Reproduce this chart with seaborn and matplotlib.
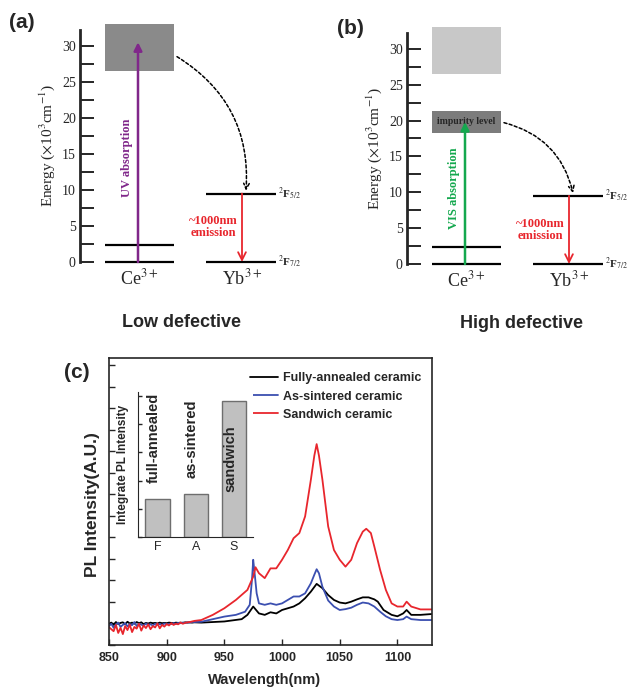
import numpy as np
import pandas as pd
import seaborn as sns
import matplotlib.pyplot as plt
from matplotlib.patches import Rectangle
from matplotlib.ticker import MultipleLocator

sns.set_style("ticks")
plt.rcParams['font.family'] = ['Liberation Sans', 'DejaVu Sans']
plt.rcParams['mathtext.fontset'] = 'stix'
SERIF = ['Liberation Serif', 'DejaVu Serif']

# energy level schemes (x10^3 cm^-1)
ce_levels = [0, 2.4]
yb_levels = [0, 9.5]
yb_names = [r'$^2$F$_{7/2}$', r'$^2$F$_{5/2}$']
band = [26.5, 33.0]
uv_top = 30.5
impurity = [18.3, 21.3]
vis_top = 19.8

# PL spectra
base_wl = list(range(850, 926, 2))
red_base = [0.62, 0.55, 0.48, 0.70, 0.42, 0.60, 0.38, 0.66, 0.52, 0.71, 0.45, 0.63, 0.57,
            0.74, 0.50, 0.68, 0.59, 0.72, 0.55, 0.66, 0.61, 0.75, 0.58, 0.70, 0.64, 0.73,
            0.68, 0.76, 0.70, 0.74, 0.72, 0.78, 0.74, 0.77, 0.79, 0.80, 0.82, 0.84]
blue_base = [0.66, 0.74, 0.60, 0.72, 0.78, 0.63, 0.70, 0.76, 0.65, 0.73, 0.69, 0.80, 0.66,
             0.74, 0.71, 0.67, 0.75, 0.70, 0.72, 0.68, 0.74, 0.71, 0.73, 0.70, 0.75, 0.72,
             0.74, 0.73, 0.76, 0.74, 0.77, 0.76, 0.78, 0.77, 0.79, 0.78, 0.80, 0.80]
black_base = [0.74, 0.78, 0.70, 0.80, 0.73, 0.77, 0.79, 0.72, 0.81, 0.75, 0.78, 0.74, 0.80,
              0.76, 0.79, 0.73, 0.77, 0.75, 0.78, 0.76, 0.77, 0.75, 0.78, 0.76, 0.77, 0.76,
              0.78, 0.77, 0.76, 0.78, 0.77, 0.78, 0.77, 0.79, 0.78, 0.79, 0.78, 0.79]

red_wl = base_wl + [930, 940, 950, 960, 970, 975, 977, 980, 985, 990, 995, 1000, 1005, 1010,
                    1015, 1020, 1025, 1028, 1030, 1032, 1035, 1040, 1045, 1050, 1055, 1060,
                    1065, 1070, 1073, 1077, 1080, 1085, 1090, 1095, 1100, 1105, 1108, 1112,
                    1120, 1130]
red_val = red_base + [0.87, 1.05, 1.28, 1.57, 1.92, 2.38, 2.71, 2.50, 2.33, 2.67, 2.67, 2.97,
                      3.31, 3.72, 3.90, 4.48, 5.76, 6.60, 7.00, 6.60, 5.76, 4.13, 3.31, 2.97,
                      2.73, 2.97, 3.55, 3.95, 4.05, 3.90, 3.43, 2.62, 1.92, 1.45, 1.34, 1.34,
                      1.51, 1.34, 1.24, 1.24]
blue_wl = base_wl + [930, 940, 950, 960, 968, 972, 974, 975, 976, 978, 980, 985, 990, 995,
                     1000, 1005, 1010, 1015, 1020, 1025, 1028, 1030, 1032, 1035, 1040, 1045,
                     1050, 1055, 1060, 1065, 1070, 1075, 1080, 1085, 1090, 1095, 1100, 1105,
                     1108, 1112, 1120, 1130]
blue_val = blue_base + [0.81, 0.90, 0.99, 1.05, 1.16, 1.40, 2.30, 2.97, 2.60, 1.80, 1.45,
                        1.40, 1.45, 1.40, 1.45, 1.57, 1.69, 1.69, 1.80, 2.15, 2.45, 2.64,
                        2.50, 2.03, 1.55, 1.34, 1.22, 1.25, 1.30, 1.40, 1.48, 1.45, 1.34,
                        1.16, 1.00, 0.90, 0.87, 0.90, 0.99, 0.90, 0.87, 0.87]
black_wl = base_wl + [930, 950, 965, 970, 975, 980, 985, 990, 995, 1000, 1010, 1015, 1020,
                      1025, 1030, 1035, 1040, 1045, 1050, 1055, 1060, 1065, 1070, 1075, 1080,
                      1083, 1088, 1095, 1100, 1105, 1108, 1112, 1120, 1130]
black_val = black_base + [0.78, 0.82, 0.90, 1.05, 1.34, 1.10, 1.05, 1.14, 1.10, 1.22, 1.34,
                          1.45, 1.63, 1.86, 2.13, 1.98, 1.74, 1.57, 1.48, 1.45, 1.51, 1.59,
                          1.66, 1.66, 1.59, 1.51, 1.22, 1.05, 1.00, 1.10, 1.22, 1.05, 1.05, 1.08]
series = ['Fully-annealed ceramic', 'As-sintered ceramic', 'Sandwich ceramic']

# inset: integrated PL intensity
bar_keys = ['F', 'A', 'S']
bar_names = ['full-annealed', 'as-sintered', 'sandwich']
bar_vals = [1.15, 1.30, 4.10]

W, H = 627, 691


def px_rect(left, top, right, bottom):
    return [left / W, 1 - bottom / H, (right - left) / W, (bottom - top) / H]


fig = plt.figure(figsize=(W / 100, H / 100), dpi=100)

purple, red, green = '#80278a', '#e8262d', '#14a84e'


def scheme(ax, high):
    ax.set_xlim(0, 220)
    ax.set_ylim(0, 32.2)
    for s in ['top', 'right', 'bottom']:
        ax.spines[s].set_visible(False)
    ax.spines['left'].set_linewidth(2)
    ax.set_xticks([])
    ax.yaxis.set_major_locator(MultipleLocator(5))
    ax.yaxis.set_minor_locator(MultipleLocator(2.5))
    ax.tick_params(axis='y', which='both', direction='in', length=10, width=1.4, pad=3)
    for t in ax.get_yticklabels():
        t.set_family(SERIF)
        t.set_fontsize(10)
    ax.set_ylabel(r'Energy ($\times$10$^3$cm$^{-1}$)', family=SERIF, fontsize=11)
    ax.yaxis.set_label_coords(-0.105, 0.5)

    ax.hlines(ce_levels, 25, 94, color='black', lw=1.6, clip_on=False)
    ax.hlines(yb_levels, 126, 196, color='black', lw=1.6, clip_on=False)
    for lv, nm in zip(yb_levels, yb_names):
        ax.text(198, lv, nm, family=SERIF, fontsize=8, fontweight='bold', va='center')
    ax.text(59.5, -2.3, r'Ce$^{3+}$', family=SERIF, fontsize=13, ha='center', va='center')
    ax.text(162, -2.3, r'Yb$^{3+}$', family=SERIF, fontsize=13, ha='center', va='center')

    ax.add_patch(Rectangle((25, band[0]), 69, band[1] - band[0], clip_on=False,
                           color='#c8c8c8' if high else '#8a8a8a', lw=0))
    if high:
        ax.add_patch(Rectangle((25, impurity[0]), 69, impurity[1] - impurity[0],
                               color='#7c7c7c', lw=0, clip_on=False))
        ax.text(59.5, sum(impurity) / 2, 'impurity level', family=SERIF, fontsize=7,
                fontweight='bold', ha='center', va='center')
        top, col, txt, start = vis_top, green, 'VIS absorption', (97, 19.7)
    else:
        top, col, txt, start = uv_top, purple, 'UV absorption', (97, 28.5)
    ax.annotate('', xy=(58, top), xytext=(58, 0),
                arrowprops=dict(arrowstyle='-|>', color=col, lw=1.8, mutation_scale=12,
                                shrinkA=0, shrinkB=0))
    ax.text(47, 14.4 if not high else 10.6, txt, rotation=90, color=col, family=SERIF,
            fontsize=9, fontweight='bold', ha='center', va='center')
    ax.annotate('', xy=(162, yb_levels[0]), xytext=(162, yb_levels[1]),
                arrowprops=dict(arrowstyle='->', color=red, lw=1.3, mutation_scale=14,
                                shrinkA=0, shrinkB=0))
    ax.text(133, 4.8, '~1000nm\nemission', color=red, family=SERIF, fontsize=9,
            fontweight='bold', ha='center', va='center', linespacing=1.0)
    ax.annotate('', xy=(166, 9.9), xytext=start,
                arrowprops=dict(arrowstyle='->', color='black', lw=1.1, ls=(0, (2, 1.5)),
                                connectionstyle='arc3,rad=-0.3', shrinkA=0, shrinkB=0))


ax_a = fig.add_axes(px_rect(80, 30, 300, 262))
scheme(ax_a, False)
ax_b = fig.add_axes(px_rect(407, 33, 627, 264))
scheme(ax_b, True)

fig.text(22 / W, 1 - 22 / H, '(a)', fontsize=15, fontweight='bold', ha='center', va='center')
fig.text(350 / W, 1 - 28 / H, '(b)', fontsize=15, fontweight='bold', ha='center', va='center')
fig.text(77 / W, 1 - 373 / H, '(c)', fontsize=15, fontweight='bold', ha='center', va='center')
fig.text(182 / W, 1 - 322 / H, 'Low defective', fontsize=13, fontweight='bold',
         ha='center', va='center')
fig.text(522 / W, 1 - 323 / H, 'High defective', fontsize=13, fontweight='bold',
         ha='center', va='center')

# panel (c)
df = pd.concat([
    pd.DataFrame({'wavelength': black_wl, 'intensity': black_val, 'sample': series[0]}),
    pd.DataFrame({'wavelength': blue_wl, 'intensity': blue_val, 'sample': series[1]}),
    pd.DataFrame({'wavelength': red_wl, 'intensity': red_val, 'sample': series[2]}),
])
ax_c = fig.add_axes(px_rect(109, 358, 432, 645))
sns.lineplot(data=df, x='wavelength', y='intensity', hue='sample', hue_order=series,
             palette=['black', '#3b4fb0', red], estimator=None, lw=1.3, ax=ax_c)
ax_c.set_xlim(850, 1130)
ax_c.set_ylim(0, 10)
ax_c.xaxis.set_major_locator(MultipleLocator(50))
ax_c.yaxis.set_major_locator(MultipleLocator(0.75))
ax_c.set_yticklabels([])
ax_c.tick_params(direction='in', length=4, width=1)
ax_c.tick_params(axis='x', labelsize=9, pad=5)
for t in ax_c.get_xticklabels():
    t.set_fontweight('bold')
for s in ax_c.spines.values():
    s.set_linewidth(1.2)
ax_c.set_xlabel('Wavelength(nm)', fontsize=10.5, fontweight='bold')
ax_c.xaxis.set_label_coords(0.483, -0.098)
ax_c.set_ylabel('PL Intensity(A.U.)', fontsize=12.5, fontweight='bold')
ax_c.yaxis.set_label_coords(-0.028, 0.488)
ax_c.legend(loc='upper left', bbox_to_anchor=(0.435, 0.95), frameon=False,
            borderaxespad=0, borderpad=0, handlelength=2.3, handletextpad=0.4,
            prop={'weight': 'bold', 'size': 9})

ax_i = fig.add_axes(px_rect(138, 392, 253, 537))
sns.barplot(x=bar_keys, y=bar_vals, color='#c0c0c0', edgecolor='#6e6e6e', linewidth=1,
            width=0.63, ax=ax_i)
ax_i.set_xlim(-0.51, 2.5)
ax_i.set_ylim(0, 4.37)
ax_i.yaxis.set_major_locator(MultipleLocator(0.85))
ax_i.set_yticklabels([])
ax_i.tick_params(direction='in', length=3, width=1, labelsize=9, pad=3)
ax_i.spines['top'].set_visible(False)
ax_i.spines['right'].set_visible(False)
ax_i.set_ylabel('Integrate PL Intensity', fontsize=8.5, fontweight='bold')
ax_i.yaxis.set_label_coords(-0.078, 0.5)
for i, (nm, v) in enumerate(zip(bar_names, bar_vals)):
    if i < 2:
        ax_i.text(i - 0.1, v + 0.47, nm, rotation=90, ha='center', va='bottom',
                  fontsize=10.5, fontweight='bold')
    else:
        ax_i.text(i - 0.1, v - 0.73, nm, rotation=90, ha='center', va='top',
                  fontsize=10.5, fontweight='bold')

fig.savefig('out.png', dpi=100)
